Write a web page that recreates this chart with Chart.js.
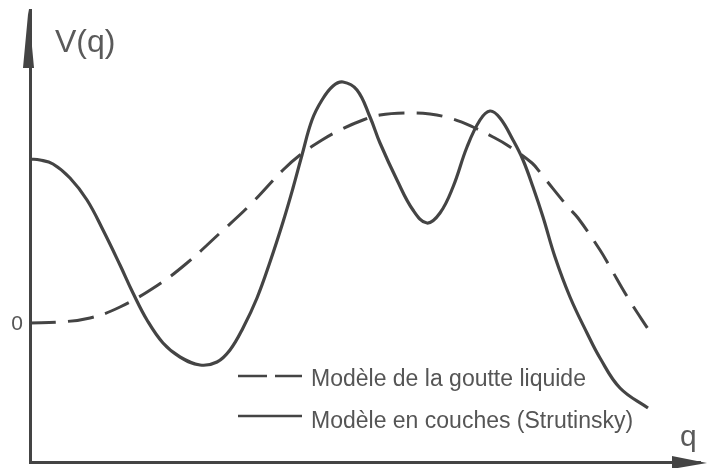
<!DOCTYPE html>
<html lang="fr">
<head>
<meta charset="utf-8">
<title>V(q)</title>
<script src="https://cdn.jsdelivr.net/npm/chart.js@4.4.1/dist/chart.umd.min.js"></script>
<style>
    html, body { margin: 0; padding: 0; background: #ffffff; }
    canvas { display: block; }
</style>
</head>
<body>
<canvas id="potChart" width="708" height="468"></canvas>
<script>
// === Data ===
// Liquid drop model (dashed curve)
const qDrop = [0, 3, 6, 9, 12.8, 15.7, 19, 22, 25.3, 27, 29.2, 31, 33.3, 35, 37.7, 40, 42.3, 44.3, 46.3, 47.7, 50.2, 51.2, 53.8, 54.8, 57, 58, 59.8, 62];
const vDrop = [0, 0.1, 0.5, 1.6, 3.8, 6, 9, 11.8, 15.3, 16.8, 18.3, 19.3, 20.3, 20.8, 21, 20.9, 20.4, 19.6, 18.6, 17.8, 16, 14.8, 11.6, 10.5, 7.3, 5.6, 2.5, -0.9];

// Shell model / Strutinsky (solid curve)
const qShell = [0, 1, 2.3, 4, 5.7, 7.3, 9, 10.3, 11.7, 13.3, 15, 17, 18.7, 20, 21.3, 22.7, 24, 25.3, 26.3, 27.2, 28.2, 29.2, 30.3, 31.3, 32.7, 34, 35, 36.7, 38.3, 39.7, 41, 42.3, 43.7, 45, 46, 47, 48.3, 49.3, 50.3, 51.3, 52.5, 54, 55.7, 57, 59, 61.8];
const vShell = [16.4, 16.3, 15.9, 14.5, 12.3, 9.3, 5.8, 3, 0.3, -2, -3.4, -4.2, -3.9, -2.7, -0.5, 2.5, 6.1, 10.1, 13.5, 16.8, 20.3, 22.3, 23.7, 24.1, 23.3, 20.6, 18, 14.3, 11.3, 10, 11, 13.6, 17.6, 20.3, 21.2, 20.5, 18.3, 16.3, 13.6, 10.6, 6.6, 2.6, -1, -3.5, -6.5, -8.5];

const yTicks = [0];
const seriesLabels = ["Modèle de la goutte liquide", "Modèle en couches (Strutinsky)"];

const ink = "#444444";
const textGrey = "#555555";
const fontFamily = '"Liberation Sans", Arial, sans-serif';

// Build {x, y} pairs for the linear x scale
function toPoints(qs, vs) {
    return qs.map((q, i) => ({ x: q, y: vs[i] }));
}

// === Axis arrows, axis names, the "0" tick and the in-plot legend ===
const decorations = {
    id: "decorations",
    afterDraw(chart) {
        const ctx = chart.ctx;
        const { left, bottom } = chart.chartArea;
        const yScale = chart.scales.y;
        ctx.save();

        // Arrowheads
        ctx.fillStyle = ink;
        ctx.beginPath();
        ctx.moveTo(left - 1.5, 9);
        ctx.lineTo(left - 7, 68);
        ctx.lineTo(left + 4, 68);
        ctx.closePath();
        ctx.fill();

        ctx.beginPath();
        ctx.moveTo(707, bottom + 1);
        ctx.lineTo(672, bottom - 6);
        ctx.lineTo(672, bottom + 7);
        ctx.closePath();
        ctx.fill();

        // Tick label(s) on the V axis, placed by the y scale
        ctx.fillStyle = textGrey;
        ctx.font = `21px ${fontFamily}`;
        ctx.textAlign = "right";
        ctx.textBaseline = "middle";
        yTicks.forEach(v => ctx.fillText(String(v), left - 7, yScale.getPixelForValue(v) + 1));

        // Axis names
        ctx.textAlign = "left";
        ctx.textBaseline = "alphabetic";
        ctx.fillStyle = "#5a5a5a";
        ctx.font = `32px ${fontFamily}`;
        ctx.fillText("V(q)", 55, 52);
        ctx.font = `30px ${fontFamily}`;
        ctx.fillText("q", 680, 446);

        // Legend samples
        ctx.strokeStyle = ink;
        ctx.lineWidth = 2.5;
        ctx.setLineDash([29, 8]);
        ctx.beginPath();
        ctx.moveTo(238, 376);
        ctx.lineTo(302, 376);
        ctx.stroke();
        ctx.setLineDash([]);
        ctx.beginPath();
        ctx.moveTo(238, 416);
        ctx.lineTo(302, 416);
        ctx.stroke();

        ctx.fillStyle = textGrey;
        ctx.font = `23px ${fontFamily}`;
        ctx.fillText(chart.data.datasets[0].label, 311, 386);
        ctx.fillText(chart.data.datasets[1].label, 311, 428);

        ctx.restore();
    }
};

// === Draw the chart ===
const ctx = document.getElementById("potChart").getContext("2d");
new Chart(ctx, {
    type: "line",
    data: {
        datasets: [
            {
                label: seriesLabels[0],
                data: toPoints(qDrop, vDrop),
                borderColor: ink,
                borderWidth: 3,
                borderDash: [26, 12],
                pointRadius: 0,
                tension: 0.4,
                fill: false
            },
            {
                label: seriesLabels[1],
                data: toPoints(qShell, vShell),
                borderColor: ink,
                borderWidth: 3.2,
                pointRadius: 0,
                tension: 0.4,
                fill: false
            }
        ]
    },
    options: {
        responsive: false,
        animation: false,
        devicePixelRatio: 1,
        layout: { padding: { top: 10, right: 8, bottom: 6, left: 0 } },
        plugins: {
            legend: { display: false },
            tooltip: { enabled: false }
        },
        scales: {
            x: {
                type: "linear",
                min: 0,
                max: 67,
                ticks: { display: false },
                grid: { display: false, drawTicks: false },
                border: { display: true, color: ink, width: 3 },
                afterFit: s => { s.height = 0; s.paddingLeft = 0; s.paddingRight = 0; }
            },
            y: {
                type: "linear",
                min: -13.9,
                max: 31.3,
                afterBuildTicks: s => { s.ticks = yTicks.map(v => ({ value: v })); },
                ticks: { display: false },
                grid: { display: false, drawTicks: false },
                border: { display: true, color: ink, width: 3 },
                afterFit: s => { s.width = 30; s.paddingTop = 0; s.paddingBottom = 0; }
            }
        }
    },
    plugins: [decorations]
});
</script>
</body>
</html>
